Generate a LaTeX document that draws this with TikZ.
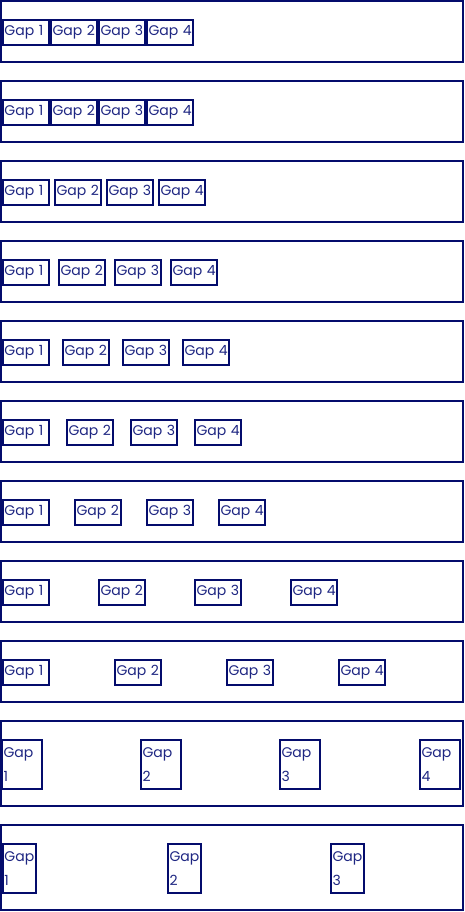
\documentclass[tikz,border=0pt]{standalone}
\usepackage{fontspec}
\setmainfont{Poppins}
\definecolor{navy}{RGB}{4,12,108}
\definecolor{navytext}{RGB}{30,38,130}

\begin{document}
\begin{tikzpicture}
        % 样式: 外框和间隔框
        [x=1pt,y=-1pt,
        RowBox/.style={draw=navy, line width=2pt},
        GapNode/.style={draw=navy, line width=2pt, text=navytext, anchor=north west,
            inner xsep=1.5pt, inner ysep=0pt, minimum height=25pt, text width=43pt,
            align=left, font=\fontsize{14}{24}\selectfont}]

        \useasboundingbox (0,0) rectangle (464,912);

        % 前九行: 每行一个外框和四个间隔框, \s 为步长
        \foreach \s [count=\r] in {48,48,52,56,60,64,72,96,112}{
            \draw[RowBox] (1,{80*(\r-1)+1}) rectangle (463,{80*(\r-1)+62});
            \foreach \g in {1,...,4}
                \node[GapNode] (r\r g\g) at ({2+\s*(\g-1)},{80*(\r-1)+19}) {Gap~\g};
        }

        % 第十行: 文字换行
        \draw[RowBox] (1,721) rectangle (463,806);
        \foreach \x [count=\g] in {1,140,279,419}
            \node[GapNode, text width=37pt, minimum height=49pt] (r10g\g) at (\x,739) {Gap \g};

        % 第十一行: 三个间隔框
        \draw[RowBox] (1,825) rectangle (463,910);
        \foreach \x [count=\g] in {2,167,330}
            \node[GapNode, text width=30pt, minimum height=49pt] (r11g\g) at (\x,843) {Gap \g};
    \end{tikzpicture}
\end{document}
